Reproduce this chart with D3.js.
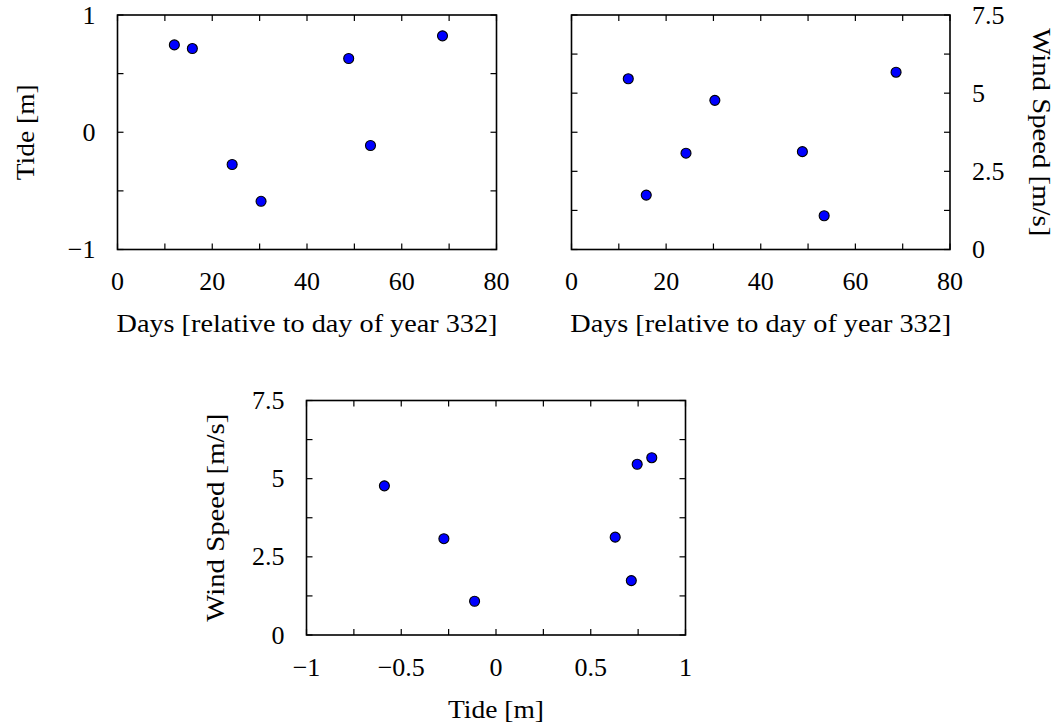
<!DOCTYPE html>
<html><head><meta charset="utf-8">
<script src="https://cdn.jsdelivr.net/npm/d3@7"></script>
</head><body style="margin:0;background:#fff"><svg id="c" width="1062" height="728" font-family="Liberation Serif"></svg>
<script>
const days = [12.0, 15.8, 24.2, 30.3, 48.8, 53.4, 68.6];
const tide = [0.745, 0.714, -0.275, -0.589, 0.629, -0.113, 0.822];
const wind = [5.46, 1.74, 3.08, 4.77, 3.13, 1.08, 5.67];
const dayTicks = [0, 10, 20, 30, 40, 50, 60, 70, 80];
const dayLabels = [0, 20, 40, 60, 80];
const tideTicks = [-1, -0.5, 0, 0.5, 1];
const tideLabels = [-1, 0, 1];
const tideLabelsX = [-1, -0.5, 0, 0.5, 1];
const tideTicksX = [-1, -0.75, -0.5, -0.25, 0, 0.25, 0.5, 0.75, 1];
const windTicks = [0, 1.25, 2.5, 3.75, 5, 6.25, 7.5];
const windLabels = [0, 2.5, 5, 7.5];
const labelDays = "Days [relative to day of year 332]";
const labelTide = "Tide [m]";
const labelWind = "Wind Speed [m/s]";

const svg = d3.select("#c");
const FS = 26;
const FF = "Liberation Serif";
const fmt = v => (v < 0 ? "\u2212" : "") + String(Math.abs(v));

function panel(o) {
  const g = svg.append("g");
  const x = d3.scaleLinear().domain(o.xd).range([o.x0, o.x1]);
  const y = d3.scaleLinear().domain(o.yd).range([o.y1, o.y0]);
  const T = 6;
  const tk = (sel) => sel.attr("stroke", "#000").attr("stroke-width", 1.2);
  tk(g.append("g").selectAll("line").data(o.xt).join("line")
    .attr("x1", d => x(d)).attr("x2", d => x(d)).attr("y1", o.y1).attr("y2", o.y1 - T));
  tk(g.append("g").selectAll("line").data(o.xt).join("line")
    .attr("x1", d => x(d)).attr("x2", d => x(d)).attr("y1", o.y0).attr("y2", o.y0 + T));
  tk(g.append("g").selectAll("line").data(o.yt).join("line")
    .attr("y1", d => y(d)).attr("y2", d => y(d)).attr("x1", o.x0).attr("x2", o.x0 + T));
  tk(g.append("g").selectAll("line").data(o.yt).join("line")
    .attr("y1", d => y(d)).attr("y2", d => y(d)).attr("x1", o.x1).attr("x2", o.x1 - T));
  g.append("rect").attr("x", o.x0).attr("y", o.y0).attr("width", o.x1 - o.x0).attr("height", o.y1 - o.y0)
    .attr("fill", "none").attr("stroke", "#000").attr("stroke-width", 1.6);
  g.append("g").selectAll("text").data(o.xl).join("text")
    .attr("x", d => x(d)).attr("y", o.y1 + 40.5).attr("text-anchor", "middle")
    .attr("font-family", FF).attr("font-size", FS).text(fmt);
  g.append("g").selectAll("text").data(o.yl).join("text")
    .attr("x", o.right ? o.x1 + 22 : o.x0 - 22).attr("y", d => y(d)).attr("dy", "0.33em")
    .attr("text-anchor", o.right ? "start" : "end")
    .attr("font-family", FF).attr("font-size", FS).text(fmt);
  g.append("text").attr("x", (o.x0 + o.x1) / 2).attr("y", o.y1 + o.xlOff)
    .attr("text-anchor", "middle").attr("font-family", FF).attr("font-size", FS)
    .attr("textLength", o.xlLen).attr("lengthAdjust", "spacingAndGlyphs").text(o.xlab);
  const cy = (o.y0 + o.y1) / 2;
  g.append("text").attr("transform", `translate(${o.ylx},${cy}) rotate(${o.right ? 90 : -90})`)
    .attr("text-anchor", "middle").attr("dy", "0.33em").attr("font-family", FF).attr("font-size", FS)
    .attr("textLength", o.ylLen).attr("lengthAdjust", "spacingAndGlyphs").text(o.ylab);
  g.append("g").selectAll("circle").data(o.px.map((v, i) => [v, o.py[i]])).join("circle")
    .attr("cx", d => x(d[0])).attr("cy", d => y(d[1])).attr("r", 5)
    .attr("fill", "#0000ff").attr("stroke", "#000").attr("stroke-width", 1.1);
}

panel({x0: 117.5, x1: 496.5, y0: 15, y1: 249.5, xd: [0, 80], yd: [-1, 1],
  xt: dayTicks, xl: dayLabels, yt: tideTicks, yl: tideLabels,
  xlab: labelDays, ylab: labelTide, ylx: 25.5, xlOff: 82.5, right: false,
  xlLen: 381, ylLen: 96, px: days, py: tide});
panel({x0: 571.5, x1: 950, y0: 15, y1: 249.5, xd: [0, 80], yd: [0, 7.5],
  xt: dayTicks, xl: dayLabels, yt: windTicks, yl: windLabels,
  xlab: labelDays, ylab: labelWind, ylx: 1042, xlOff: 82.5, right: true,
  xlLen: 381, ylLen: 208, px: days, py: wind});
panel({x0: 306.5, x1: 685.5, y0: 400.5, y1: 635, xd: [-1, 1], yd: [0, 7.5],
  xt: tideTicksX, xl: tideLabelsX, yt: windTicks, yl: windLabels,
  xlab: labelTide, ylab: labelWind, ylx: 215.5, xlOff: 82.5, right: false,
  xlLen: 96, ylLen: 208, px: tide, py: wind});
</script></body></html>
